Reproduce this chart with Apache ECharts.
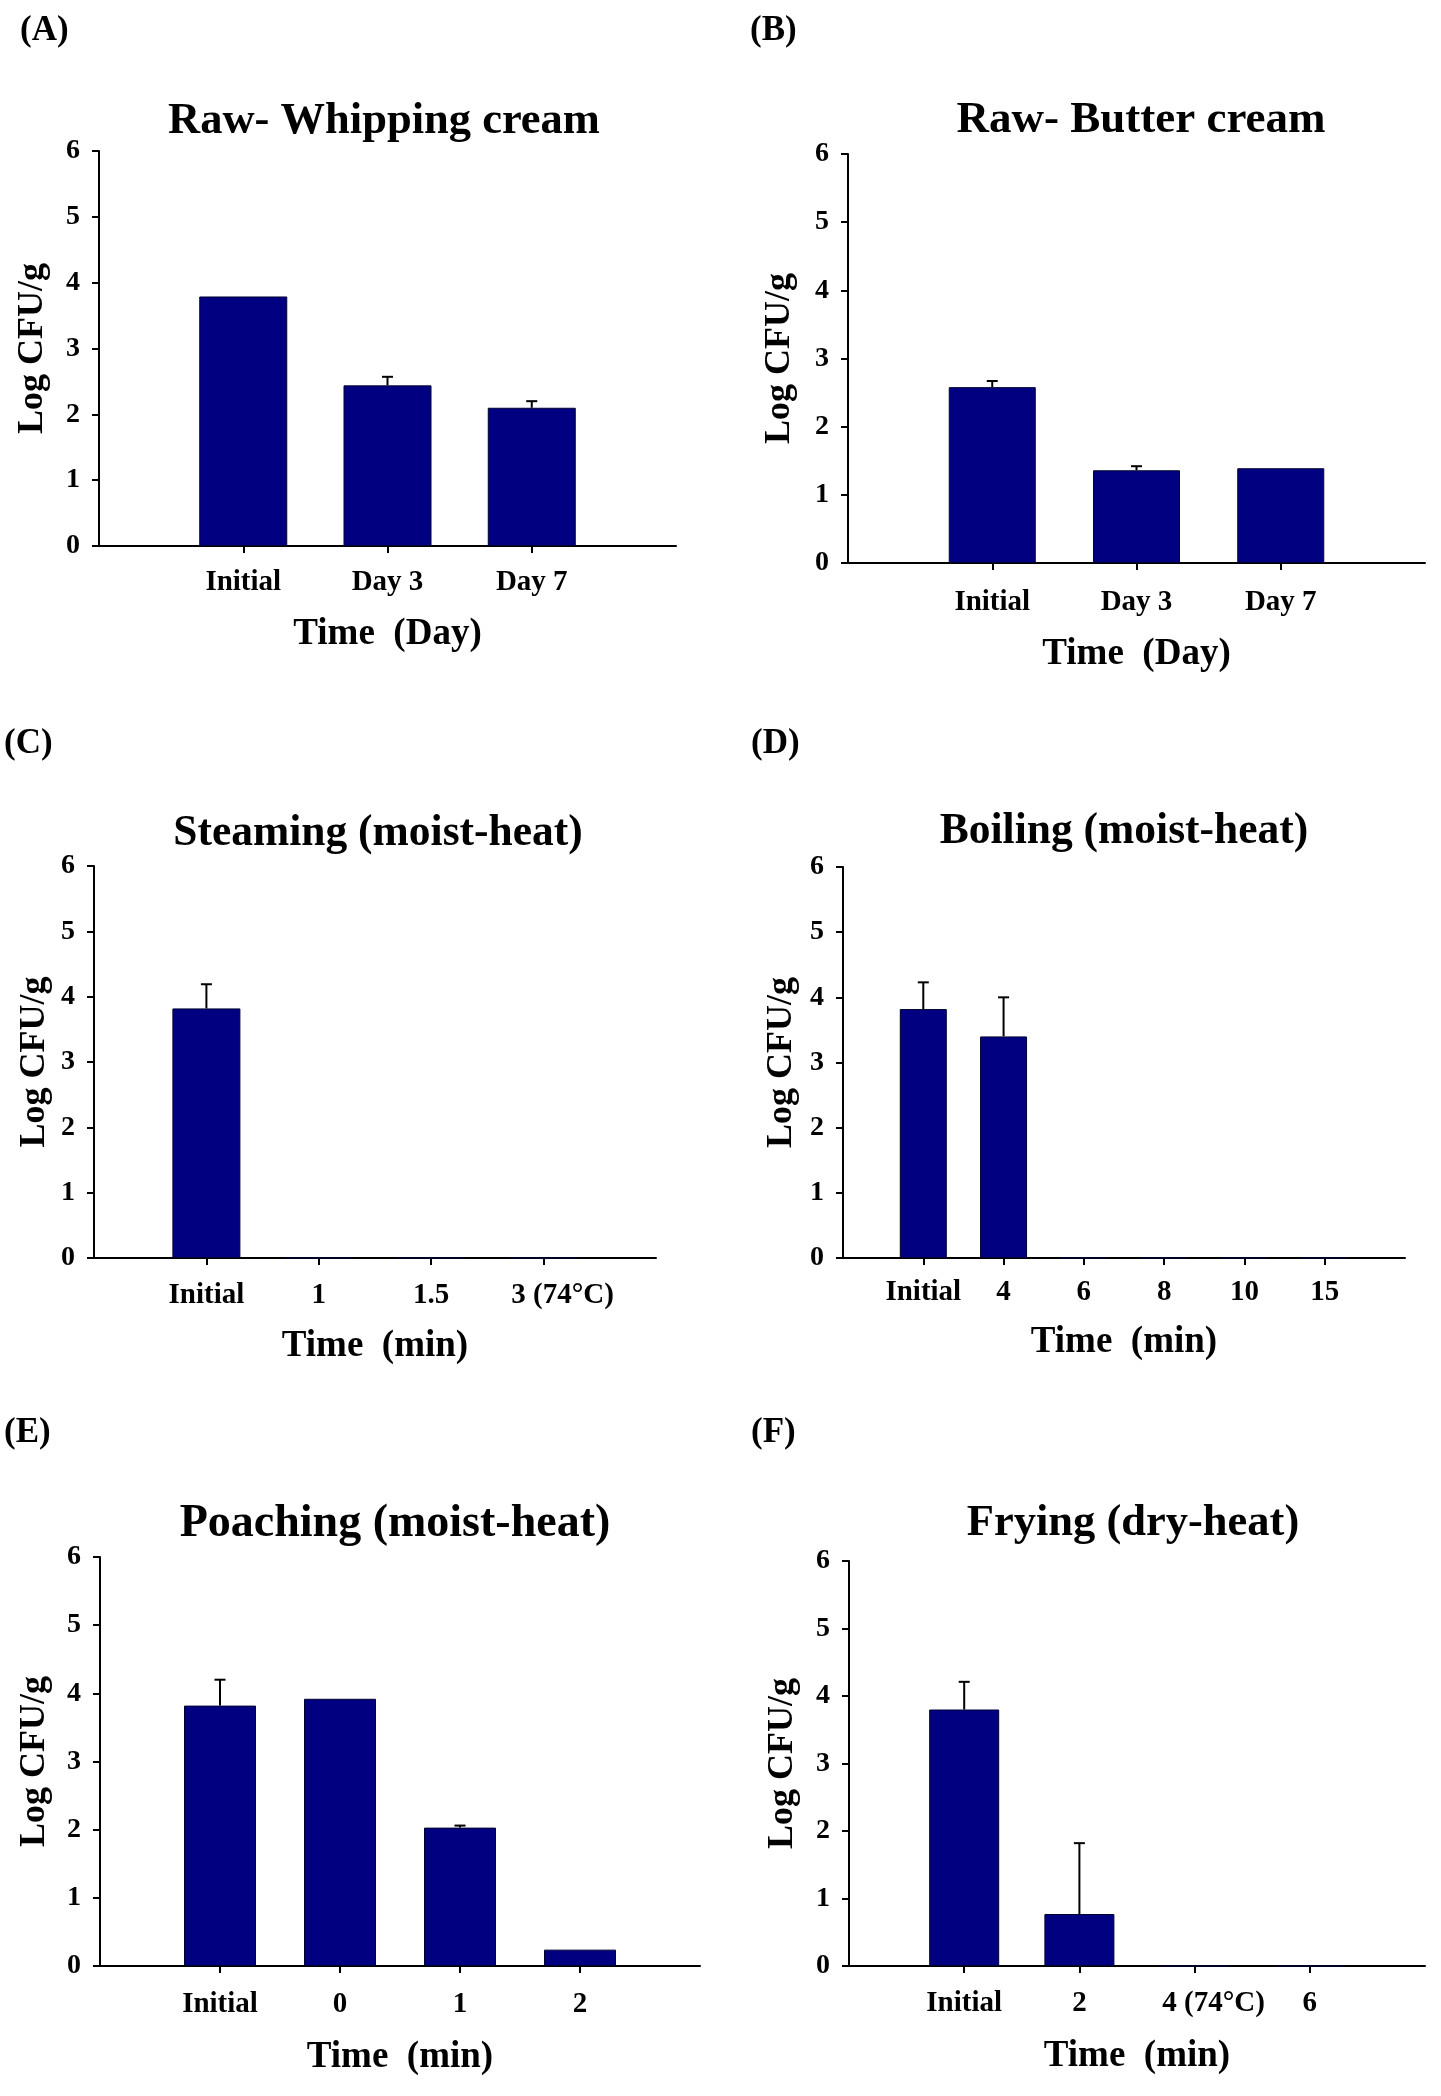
<!DOCTYPE html>
<html>
<head>
<meta charset="utf-8">
<script src="https://cdn.jsdelivr.net/npm/echarts@6/dist/echarts.min.js"></script>
<style>
html,body{margin:0;padding:0;background:#fff;}
#chart{width:1441px;height:2096px;}
</style>
</head>
<body>
<div id="chart"></div>
<script>
// ---------------- data ----------------
const catsA = ['Initial', 'Day 3', 'Day 7'];
const valsA = [3.79, 2.44, 2.10];
const errA  = [0, 0.13, 0.10];

const catsB = ['Initial', 'Day 3', 'Day 7'];
const valsB = [2.58, 1.36, 1.39];
const errB  = [0.09, 0.06, 0];

const catsC = ['Initial', '1', '1.5', '3 (74°C)'];
const valsC = [3.82, 0, 0, 0];
const errC  = [0.37, 0, 0, 0];

const catsD = ['Initial', '4', '6', '8', '10', '15'];
const valsD = [3.82, 3.40, 0, 0, 0, 0];
const errD  = [0.41, 0.60, 0, 0, 0, 0];

const catsE = ['Initial', '0', '1', '2'];
const valsE = [3.82, 3.92, 2.03, 0.24];
const errE  = [0.38, 0, 0.03, 0];

const catsF = ['Initial', '2', '4 (74°C)', '6'];
const valsF = [3.80, 0.77, 0, 0];
const errF  = [0.41, 1.05, 0, 0];

const yTickLabels = ['0', '1', '2', '3', '4', '5', '6'];
const titles  = ['Raw- Whipping cream', 'Raw- Butter cream', 'Steaming (moist-heat)',
                 'Boiling (moist-heat)', 'Poaching (moist-heat)', 'Frying (dry-heat)'];
const letters = ['(A)', '(B)', '(C)', '(D)', '(E)', '(F)'];
const xNames  = ['Time  (Day)', 'Time  (Day)', 'Time  (min)', 'Time  (min)', 'Time  (min)', 'Time  (min)'];
const yName   = 'Log CFU/g';

// ---------------- layout ----------------
const FONT = '"Liberation Serif", "Times New Roman", Times, serif';
const BAR_COLOR = '#000080';

const panels = [
  {cats: catsA, vals: valsA, err: errA},
  {cats: catsB, vals: valsB, err: errB},
  {cats: catsC, vals: valsC, err: errC},
  {cats: catsD, vals: valsD, err: errD},
  {cats: catsE, vals: valsE, err: errE},
  {cats: catsF, vals: valsF, err: errF}
];

const layout = [
  {grid: {left: 99,  top: 151,  width: 577, height: 395}, barW: 88, title: [384, 121, 44.5], letter: [20, 31],   xLM: 22, xNG: 70, yNG: 48},
  {grid: {left: 848, top: 154,  width: 577, height: 409}, barW: 87, title: [1141, 120, 45],  letter: [750, 31],  xLM: 25, xNG: 73, yNG: 50},
  {grid: {left: 94,  top: 866,  width: 562, height: 392}, barW: 68, title: [378, 834, 43.5], letter: [4, 744],   xLM: 23, xNG: 70, yNG: 41},
  {grid: {left: 843, top: 867,  width: 562, height: 391}, barW: 47, title: [1124, 832, 43.5],letter: [751, 744], xLM: 20, xNG: 66, yNG: 43},
  {grid: {left: 100, top: 1557, width: 600, height: 409}, barW: 72, title: [395, 1524, 46],  letter: [4, 1433],  xLM: 24, xNG: 73, yNG: 47},
  {grid: {left: 849, top: 1561, width: 576, height: 405}, barW: 70, title: [1133, 1523, 44.5],letter: [751, 1433], xLM: 23, xNG: 72, yNG: 48}
];

const grids = [], xAxes = [], yAxes = [], series = [], graphics = [];

panels.forEach((p, i) => {
  const L = layout[i];
  const n = p.cats.length;
  grids.push(Object.assign({containLabel: false, outerBoundsMode: 'none'}, L.grid));

  const visible = (idx) => idx > 0 && idx <= n;
  xAxes.push({
    type: 'category',
    gridIndex: i,
    data: [''].concat(p.cats, ['']),
    boundaryGap: false,
    axisLine: {show: true, onZero: false, lineStyle: {color: '#000', width: 2}},
    axisTick: {show: true, inside: false, length: 7, interval: visible, lineStyle: {color: '#000', width: 2}},
    axisLabel: {
      show: true, interval: visible, margin: L.xLM, color: '#000',
      fontFamily: FONT, fontWeight: 'bold', fontSize: 29,
      formatter: (v) => v.indexOf('(') >= 0 ? '{s|' + v + '}' : v,
      rich: {s: {color: '#000', fontFamily: FONT, fontWeight: 'bold', fontSize: 29, padding: [0, 0, 0, 38]}}
    },
    splitLine: {show: false},
    name: xNames[i],
    nameLocation: 'middle',
    nameGap: L.xNG,
    nameTextStyle: {color: '#000', fontFamily: FONT, fontWeight: 'bold', fontSize: 37}
  });

  yAxes.push({
    type: 'value',
    gridIndex: i,
    min: 0, max: 6, interval: 1,
    axisLine: {show: true, lineStyle: {color: '#000', width: 2}},
    axisTick: {show: true, inside: false, length: 7, lineStyle: {color: '#000', width: 2}},
    axisLabel: {show: true, margin: 19, color: '#000', fontFamily: FONT, fontWeight: 'bold', fontSize: 28,
                formatter: (v) => yTickLabels[Math.round(v)]},
    splitLine: {show: false},
    name: yName,
    nameLocation: 'middle',
    nameGap: L.yNG,
    nameTextStyle: {color: '#000', fontFamily: FONT, fontWeight: 'bold', fontSize: 36}
  });

  series.push({
    type: 'bar',
    xAxisIndex: i, yAxisIndex: i,
    data: ['-'].concat(p.vals, ['-']),
    barWidth: L.barW,
    itemStyle: {color: BAR_COLOR, borderColor: '#000030', borderWidth: 1},
    silent: true,
    z: 2
  });

  const errData = [];
  p.err.forEach((e, k) => { if (e > 0) errData.push([k + 1, p.vals[k], e]); });
  series.push({
    type: 'custom',
    xAxisIndex: i, yAxisIndex: i,
    data: errData,
    encode: {x: 0, y: 1},
    z: 5,
    silent: true,
    renderItem: (params, api) => {
      const x = api.value(0), v = api.value(1), e = api.value(2);
      const p0 = api.coord([x, v]);
      const p1 = api.coord([x, v + e]);
      const cap = 5.5;
      return {
        type: 'group',
        children: [
          {type: 'line', shape: {x1: p0[0], y1: p0[1], x2: p1[0], y2: p1[1]}, style: {stroke: '#000', lineWidth: 2}},
          {type: 'line', shape: {x1: p1[0] - cap, y1: p1[1], x2: p1[0] + cap, y2: p1[1]}, style: {stroke: '#000', lineWidth: 2}}
        ]
      };
    }
  });

  graphics.push({
    type: 'text', x: L.title[0], y: L.title[1],
    style: {text: titles[i], font: 'bold ' + L.title[2] + 'px ' + FONT, fill: '#000',
            align: 'center', verticalAlign: 'middle', textAlign: 'center', textVerticalAlign: 'middle'}
  });
  graphics.push({
    type: 'text', x: L.letter[0], y: L.letter[1],
    style: {text: letters[i], font: 'bold 35px ' + FONT, fill: '#000',
            align: 'left', verticalAlign: 'middle', textAlign: 'left', textVerticalAlign: 'middle'}
  });
});

const chart = echarts.init(document.getElementById('chart'), null, {renderer: 'canvas'});
chart.setOption({
  backgroundColor: '#fff',
  animation: false,
  grid: grids,
  xAxis: xAxes,
  yAxis: yAxes,
  series: series,
  graphic: graphics
});
</script>
</body>
</html>
